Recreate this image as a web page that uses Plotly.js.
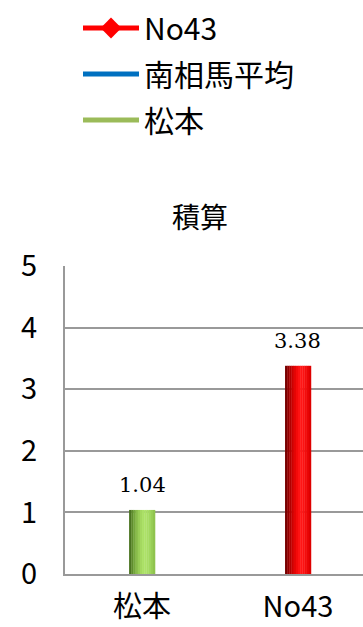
<!DOCTYPE html>
<html><head><meta charset="utf-8">
<script src="https://cdn.plot.ly/plotly-3.0.1.min.js"></script>
<style>html,body{margin:0;padding:0;background:#fff;}#chart{width:363px;height:627px;}</style>
</head><body><div id="chart"></div>
<script>
// Data
var categories = ['松本', 'No43'];
var values = [1.04, 3.38];
var valueLabels = ['1.04', '3.38'];
var legendNames = ['No43', '南相馬平均', '松本'];
var yTicks = [0, 1, 2, 3, 4, 5];

// Styles
var barPalettes = [
  ['#4a7420', '#5f8e2c', '#74a73b', '#88bc4a', '#98cc56', '#a4d860', '#abe066', '#ade268', '#a9de65', '#a2d85f', '#98ce56', '#8fc44e'],
  ['#780000', '#940000', '#b00000', '#cc0000', '#e40404', '#f40a0a', '#fe1212', '#ff1616', '#fc1212', '#f40c0c', '#ea0606', '#de0000']
];
var legendColors = ['#ff0000', '#0070c0', '#9bbb59'];
var barWidth = 0.166;
var nStrips = 12;

var traces = [];
for (var i = 0; i < nStrips; i++) {
  traces.push({
    type: 'bar', x: categories, y: values,
    width: barWidth / nStrips + 0.002,
    offset: -barWidth / 2 + i * barWidth / nStrips,
    marker: { color: categories.map(function (c, k) { return barPalettes[k][i]; }), line: { width: 0 } },
    showlegend: false, hoverinfo: 'skip'
  });
}
legendNames.forEach(function (n, k) {
  traces.push({
    type: 'scatter', mode: k === 0 ? 'lines+markers' : 'lines',
    x: categories, y: categories.map(function () { return null; }), name: n,
    showlegend: true, legendgroup: 'g' + k,
    line: { color: legendColors[k], width: 5 },
    marker: { symbol: 'diamond', size: 16, color: legendColors[k] }
  });
});

var annotations = categories.map(function (c, k) {
  return {
    x: c, y: values[k], xref: 'x', yref: 'y', text: valueLabels[k],
    showarrow: false, yanchor: 'middle', yshift: 25,
    font: { family: 'DejaVu Serif', size: 21, color: '#000' }
  };
});

var layout = {
  width: 363, height: 627,
  margin: { l: 65, r: 0, t: 266, b: 53, autoexpand: false },
  paper_bgcolor: '#fff', plot_bgcolor: '#fff',
  barmode: 'overlay',
  font: { family: 'Noto Sans CJK JP', color: '#000' },
  title: {
    text: '積算', xref: 'container', yref: 'container',
    x: 200 / 363, xanchor: 'center', y: 1 - 218 / 627, yanchor: 'middle',
    font: { family: 'Noto Sans CJK JP', size: 28, color: '#000' }
  },
  xaxis: {
    type: 'category', range: [-0.494, 1.417],
    showline: true, linecolor: '#999', linewidth: 2,
    showgrid: false, ticks: '', ticklabelstandoff: 6,
    tickfont: { family: 'Noto Sans CJK JP', size: 29, color: '#000' },
    fixedrange: true
  },
  yaxis: {
    range: [0, 5], tickvals: yTicks, ticktext: yTicks.map(String),
    showline: true, linecolor: '#999', linewidth: 2,
    showgrid: true, gridcolor: '#999', gridwidth: 2,
    zeroline: false, ticks: '', ticklabelstandoff: 20,
    tickfont: { family: 'Noto Sans CJK JP', size: 29, color: '#000' },
    fixedrange: true
  },
  showlegend: true,
  legend: {
    xref: 'container', yref: 'container',
    x: 78 / 363, y: 1 - 2 / 627, xanchor: 'left', yanchor: 'top',
    font: { family: 'Noto Sans CJK JP', size: 30, color: '#000' },
    itemwidth: 56, tracegroupgap: 4, bgcolor: 'rgba(0,0,0,0)'
  },
  annotations: annotations
};
Plotly.newPlot('chart', traces, layout, { displayModeBar: false, staticPlot: true });
</script></body></html>
